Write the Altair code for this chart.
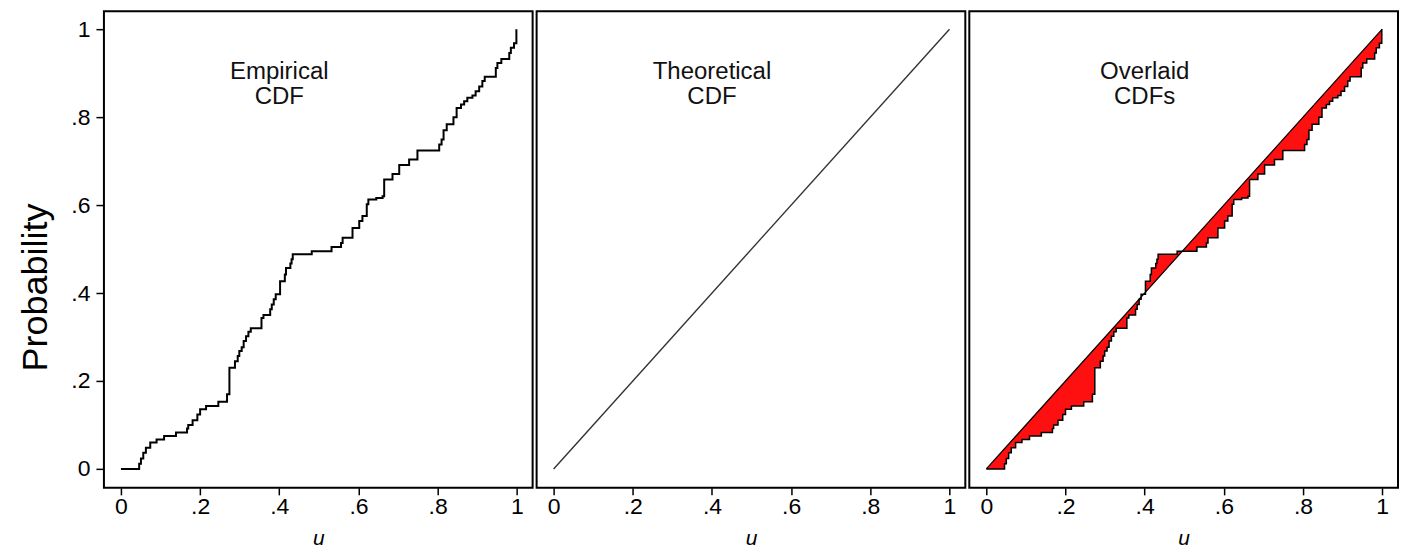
import altair as alt
import pandas as pd

FONT = "Liberation Sans"

# Sorted sample values u (positions of the ECDF jumps) and ECDF level after each jump
jump_u = [0.046, 0.0505, 0.0564, 0.063, 0.074, 0.090, 0.109, 0.139, 0.167, 0.170,
          0.181, 0.193, 0.200, 0.215, 0.246, 0.268, 0.274, 0.288, 0.295, 0.299,
          0.305, 0.310, 0.316, 0.322, 0.328, 0.355, 0.360, 0.377, 0.381, 0.386,
          0.391, 0.402, 0.414, 0.417, 0.428, 0.431, 0.434, 0.482, 0.532, 0.556,
          0.560, 0.585, 0.602, 0.610, 0.621, 0.625, 0.645, 0.661, 0.665, 0.686,
          0.703, 0.728, 0.749, 0.804, 0.810, 0.815, 0.823, 0.840, 0.848, 0.859,
          0.867, 0.875, 0.888, 0.896, 0.905, 0.913, 0.919, 0.947, 0.951, 0.961,
          0.981, 0.985, 0.993, 0.999]
ecdf_level = [0.012, 0.024, 0.037, 0.048, 0.060, 0.067, 0.075, 0.083, 0.092, 0.100,
              0.111, 0.124, 0.136, 0.143, 0.153, 0.170, 0.230, 0.245, 0.257, 0.268,
              0.277, 0.291, 0.302, 0.312, 0.320, 0.343, 0.350, 0.363, 0.374, 0.386,
              0.397, 0.427, 0.442, 0.457, 0.467, 0.477, 0.488, 0.495, 0.505, 0.514,
              0.526, 0.548, 0.564, 0.575, 0.602, 0.613, 0.616, 0.620, 0.658, 0.671,
              0.691, 0.704, 0.724, 0.738, 0.749, 0.770, 0.784, 0.800, 0.821, 0.829,
              0.836, 0.844, 0.849, 0.859, 0.870, 0.882, 0.892, 0.912, 0.923, 0.932,
              0.946, 0.958, 0.968, 1.000]

theo_u = [0.0, 1.0]
tick_values = [0.0, 0.2, 0.4, 0.6, 0.8, 1.0]
tick_labels = ["0", ".2", ".4", ".6", ".8", "1"]
panel_titles = ["Empirical\nCDF", "Theoretical\nCDF", "Overlaid\nCDFs"]
title_pos = [0.40, 0.902]

# ---- tables built from the arrays ----
step_df = pd.DataFrame({"u": [0.0] + jump_u, "F": [0.0] + ecdf_level})
rows = [{"i": 0, "u": 0.0, "F": 0.0, "diag": 0.0}]
prev = 0.0
for u, f in zip(jump_u, ecdf_level):
    rows.append({"i": len(rows), "u": u, "F": prev, "diag": u})
    rows.append({"i": len(rows), "u": u, "F": f, "diag": u})
    prev = f
area_df = pd.DataFrame(rows)
diag_df = pd.DataFrame({"u": theo_u, "F": theo_u})

label_expr = "''"
for v, l in reversed(list(zip(tick_values, tick_labels))):
    label_expr = f"(abs(datum.value - {v}) < 1e-6 ? '{l}' : {label_expr})"

XDOM = [-0.043, 1.04]
YDOM = [-0.043, 1.041]

x_axis = alt.Axis(values=tick_values, labelExpr=label_expr, title="u",
                  titleFontStyle="italic", titleFontWeight="normal", titleFontSize=21,
                  titleFont=FONT, titleColor="black", titlePadding=9,
                  labelFont=FONT, labelFontSize=23, labelColor="black", labelPadding=1,
                  labelFlush=False, labelOverlap=False,
                  tickSize=7, tickWidth=1.5, tickColor="black", domain=False, grid=False)
y_axis = alt.Axis(values=tick_values, labelExpr=label_expr, title="Probability",
                  titleFontWeight="normal", titleFontSize=36, titleFont=FONT,
                  titleColor="black", titlePadding=16, titleY=276,
                  labelFont=FONT, labelFontSize=23, labelColor="black", labelPadding=6,
                  labelOverlap=False,
                  tickSize=8, tickWidth=1.5, tickColor="black", domain=False, grid=False)

xs = alt.Scale(domain=XDOM, nice=False, zero=False)
ys = alt.Scale(domain=YDOM, nice=False, zero=False)


def xenc():
    return alt.X("u:Q", scale=xs, axis=x_axis)


def yenc(first):
    return alt.Y("F:Q", scale=ys, axis=y_axis if first else None)


def title_layer(text, first):
    df = pd.DataFrame({"u": [title_pos[0]], "F": [title_pos[1]], "label": [text]})
    return alt.Chart(df).mark_text(align="center", baseline="middle", fontSize=24,
                                   lineHeight=25, lineBreak="\n", font=FONT,
                                   color="#111111").encode(
        x=xenc(), y=yenc(first), text="label:N")


W, H = 429, 477

p1 = alt.layer(
    alt.Chart(step_df).mark_line(interpolate="step-after", color="black",
                                 strokeWidth=2, clip=True).encode(x=xenc(), y=yenc(True)),
    title_layer(panel_titles[0], True),
).properties(width=W, height=H)

p2 = alt.layer(
    alt.Chart(diag_df).mark_line(color="#333333", strokeWidth=1.4).encode(
        x=xenc(), y=yenc(False)),
    title_layer(panel_titles[1], False),
).properties(width=W, height=H)

p3 = alt.layer(
    alt.Chart(area_df).mark_area(fill="#ff1010", color="#ff1010", fillOpacity=1,
                                 interpolate="linear").encode(
        x=xenc(), y=yenc(False), y2=alt.Y2("diag:Q")),
    alt.Chart(step_df).mark_line(interpolate="step-after", color="black",
                                 strokeWidth=1.5).encode(x=xenc(), y=yenc(False)),
    alt.Chart(diag_df).mark_line(color="black", strokeWidth=1.2).encode(
        x=xenc(), y=yenc(False)),
    title_layer(panel_titles[2], False),
).properties(width=W, height=H)

chart = alt.hconcat(p1, p2, p3, spacing=2).properties(
    padding={"left": 8, "top": 2, "right": 0, "bottom": 0}
).configure(background="white").configure_view(stroke="black", strokeWidth=2)

chart.save("out.html", embed_options={"renderer": "svg", "actions": False})
